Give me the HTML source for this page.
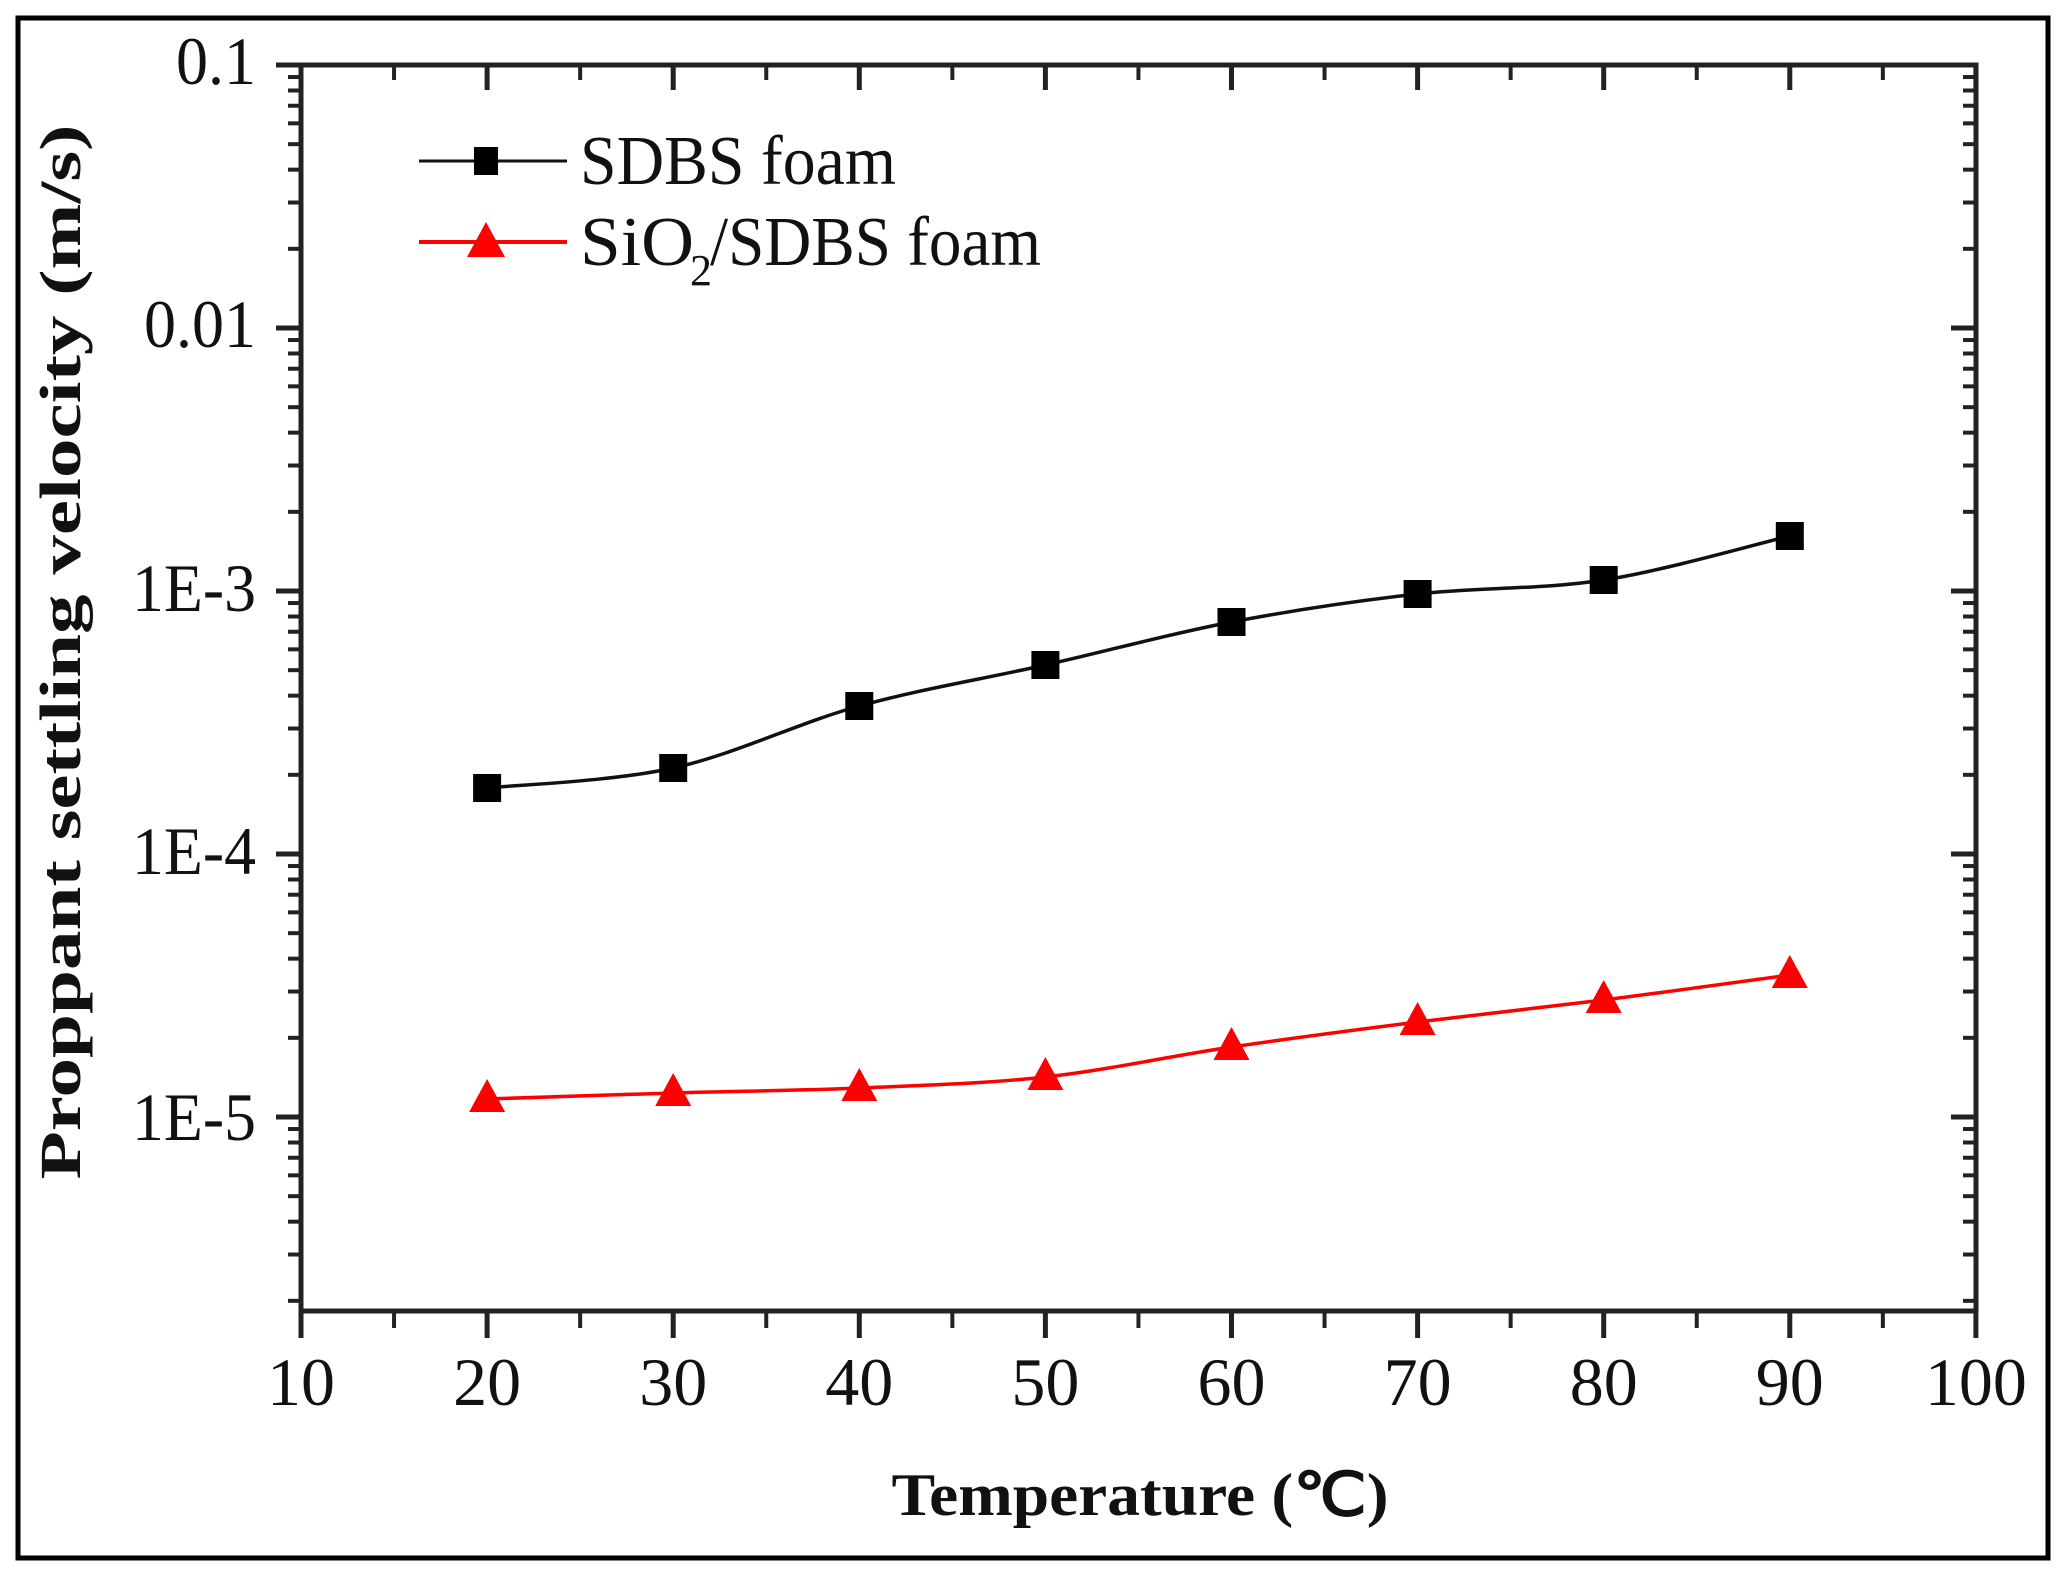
<!DOCTYPE html>
<html><head><meta charset="utf-8"><style>
html,body{margin:0;padding:0;background:#fff;}
svg{display:block;}
text{font-family:"Liberation Serif",serif;fill:#111;}
</style></head><body>
<svg id="s" width="2066" height="1577" viewBox="0 0 2066 1577" xmlns="http://www.w3.org/2000/svg">
<rect x="0" y="0" width="2066" height="1577" fill="#fff"/>
<rect x="18" y="18" width="2030" height="1540" fill="none" stroke="#000" stroke-width="5"/>
<g id="ax" stroke="#222" fill="none"></g>
<rect x="301" y="65" width="1675" height="1246" fill="none" stroke="#222" stroke-width="5"/>
<g font-size="68" text-anchor="end">
<text x="256" y="84" textLength="80" lengthAdjust="spacingAndGlyphs">0.1</text>
<text x="256" y="347" textLength="112" lengthAdjust="spacingAndGlyphs">0.01</text>
<text x="256" y="611" textLength="124" lengthAdjust="spacingAndGlyphs">1E-3</text>
<text x="256" y="874" textLength="124" lengthAdjust="spacingAndGlyphs">1E-4</text>
<text x="256" y="1140" textLength="124" lengthAdjust="spacingAndGlyphs">1E-5</text>
</g>
<g font-size="68" text-anchor="middle" id="xl"></g>
<text x="1140" y="1515" font-size="60" font-weight="bold" text-anchor="middle" textLength="497" lengthAdjust="spacingAndGlyphs">Temperature (℃)</text>
<text transform="translate(80,652) rotate(-90)" font-size="58" font-weight="bold" text-anchor="middle" textLength="1055" lengthAdjust="spacingAndGlyphs">Proppant settling velocity (m/s)</text>
<line x1="419" y1="161" x2="567" y2="161" stroke="#111" stroke-width="3"/>
<rect x="474" y="147" width="24" height="28" fill="#000"/>
<line x1="419" y1="242" x2="567" y2="242" stroke="red" stroke-width="4"/>
<polygon points="486,222 467,257 505,257" fill="red"/>
<text x="580" y="184" font-size="70" textLength="316" lengthAdjust="spacingAndGlyphs">SDBS foam</text>
<text x="580" y="265" font-size="70" textLength="114" lengthAdjust="spacingAndGlyphs">SiO</text>
<text x="690" y="285" font-size="44">2</text>
<text x="710" y="265" font-size="70" textLength="331" lengthAdjust="spacingAndGlyphs">/SDBS foam</text>
<g id="data"></g>
</svg>
<script>
var NS="http://www.w3.org/2000/svg";
function el(t,a,p){var e=document.createElementNS(NS,t);for(var k in a)e.setAttribute(k,a[k]);document.getElementById(p).appendChild(e);return e;}
function X(v){return 301+(v-10)*18.61;}
function Y(v){return 65+(-1-Math.log10(v))*263;}
for(var v=10;v<=100;v+=5){var maj=v%10==0;var x=X(v);
el('line',{x1:x,y1:1311,x2:x,y2:maj?1338:1328,'stroke-width':maj?5:4},'ax');
el('line',{x1:x,y1:65,x2:x,y2:maj?90:80,'stroke-width':maj?5:4},'ax');
if(maj){var t=el('text',{x:x,y:1405},'xl');t.textContent=v;}}
for(var d=-6;d<=-1;d++){for(var m=1;m<=9;m++){var val=m*Math.pow(10,d);if(val>0.1001||val<Math.pow(10,-5.74))continue;var y=Y(val);var maj=m==1;
el('line',{x1:maj?276:288,y1:y,x2:301,y2:y,'stroke-width':maj?5:4},'ax');
el('line',{x1:1976,y1:y,x2:maj?1951:1963,y2:y,'stroke-width':maj?5:4},'ax');}}
function curve(pts,col){var d='M'+pts[0][0]+','+pts[0][1];
for(var i=0;i<pts.length-1;i++){var p0=pts[Math.max(i-1,0)],p1=pts[i],p2=pts[i+1],p3=pts[Math.min(i+2,pts.length-1)];
var c1=[p1[0]+(p2[0]-p0[0])/6,p1[1]+(p2[1]-p0[1])/6],c2=[p2[0]-(p3[0]-p1[0])/6,p2[1]-(p3[1]-p1[1])/6];
d+=' C'+c1+' '+c2+' '+p2;}
el('path',{d:d,stroke:col,'stroke-width':3.5,fill:'none'},'data');}
var xs=[20,30,40,50,60,70,80,90].map(X);
var b=[788,768,706,665,622,594,580,536];
var r=[1099,1093,1088,1077,1047,1022,1000,975];
curve(xs.map(function(x,i){return[x,b[i]]}),'#111');
curve(xs.map(function(x,i){return[x,r[i]]}),'red');
xs.forEach(function(x,i){el('rect',{x:x-14,y:b[i]-14,width:28,height:28,fill:'#000'},'data');
el('polygon',{points:(x)+','+(r[i]-20)+' '+(x-18)+','+(r[i]+13)+' '+(x+18)+','+(r[i]+13),fill:'red'},'data');});
</script>
</body></html>
